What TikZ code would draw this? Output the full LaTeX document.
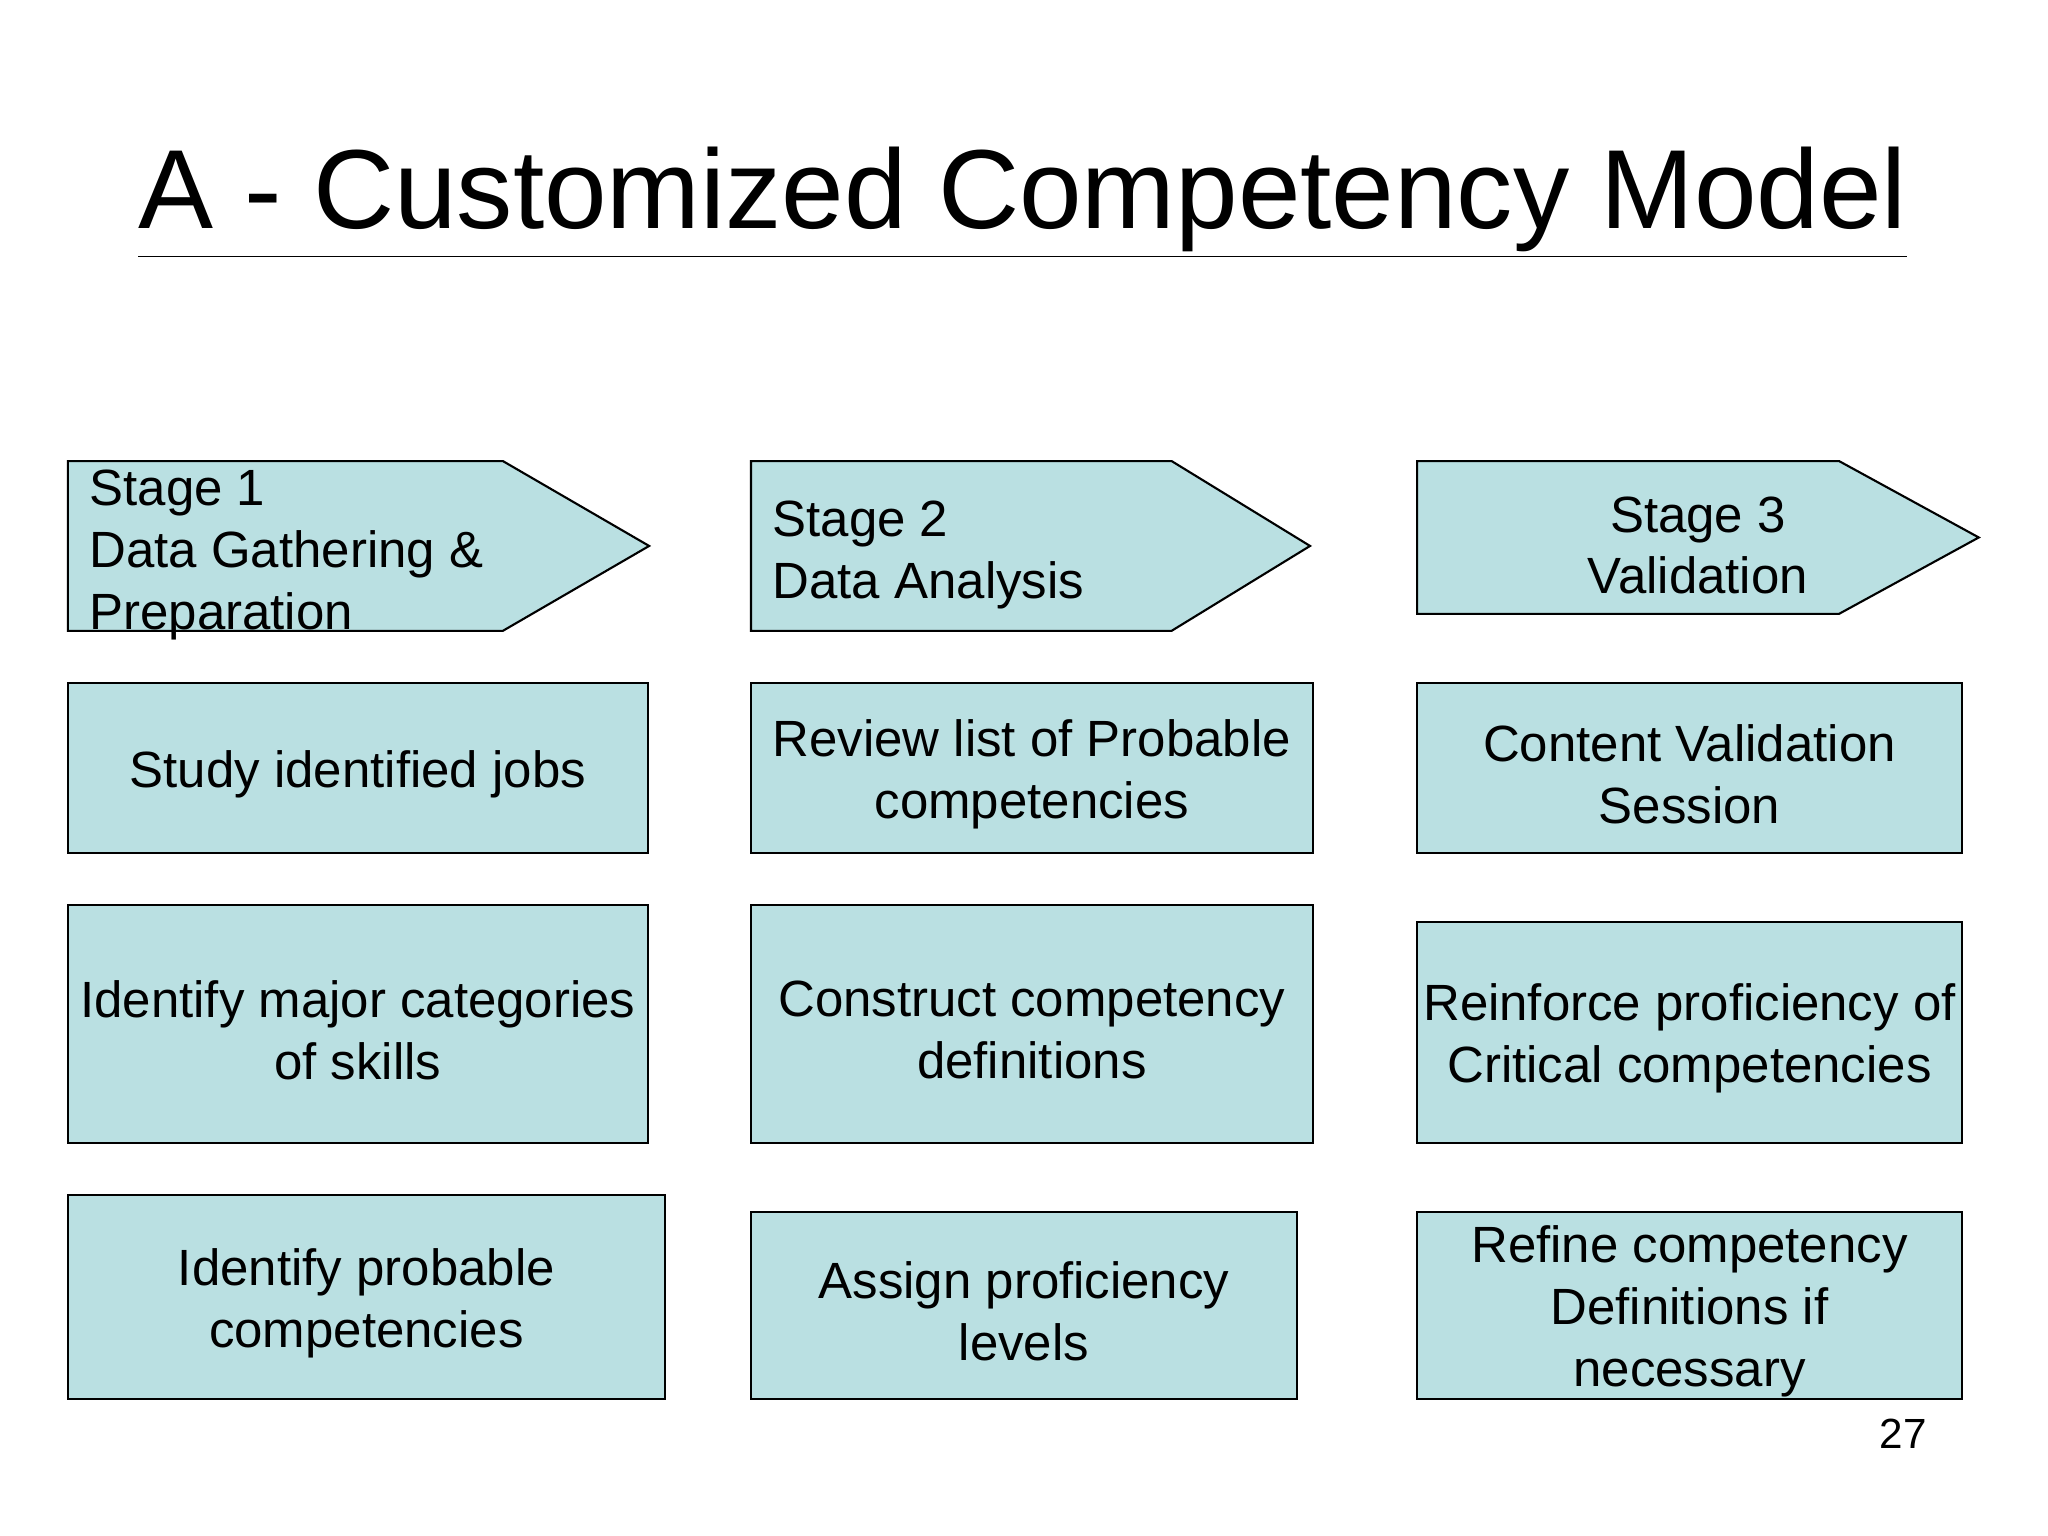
\documentclass[tikz,border=0pt]{standalone}
\usepackage{fontspec}
\setmainfont{Liberation Sans}
\usetikzlibrary{positioning}
\definecolor{boxfill}{HTML}{BAE0E2}
\tikzset{
  box/.style={draw=black, fill=boxfill, line width=0.6pt},
  txt/.style={align=center, font=\fontsize{14.5}{17.6}\selectfont, inner sep=0pt, yshift=-0.06cm},
  stagetxt/.style={align=left, font=\fontsize{14.5}{17.6}\selectfont, inner sep=0pt, anchor=west}
}
\newcommand{\stagearrow}[5]{% x0, x1 (notch), x2 (tip), y0, y1
  \draw[box] (#1,#4) -- (#2,#4) -- (#3,{(#4+#5)/2}) -- (#2,#5) -- (#1,#5) -- cycle;}
\begin{document}
\begin{tikzpicture}[x=0.01306cm, y=-0.01306cm]
\useasboundingbox (0,0) rectangle (1568,1176);
% title
\node[inner sep=0pt] (title) at (783,155) {\fontsize{32}{38}\selectfont\underline{A - Customized Competency Model}};
% stage arrows
\stagearrow{52}{385}{497}{353}{483}
\node[stagetxt] (s1) at (68,425) {Stage 1\\Data Gathering \&\\Preparation};
\stagearrow{575}{897}{1003}{353}{483}
\node[stagetxt] (s2) at (591,425) {Stage 2\\Data Analysis};
\stagearrow{1085}{1408}{1515}{353}{470}
\node[txt] (s3) at (1300,413) {Stage 3\\Validation};
% stage 1 column
\draw[box] (52,523) rectangle (496,653) node[midway,txt] (a1) {Study identified jobs};
\draw[box] (52,693) rectangle (496,875) node[midway,txt] (a2) {Identify major categories\\of skills};
\draw[box] (52,915) rectangle (509,1071) node[midway,txt] (a3) {Identify probable\\competencies};
% stage 2 column
\draw[box] (575,523) rectangle (1005,653) node[midway,txt] (b1) {Review list of Probable\\competencies};
\draw[box] (575,693) rectangle (1005,875) node[midway,txt] (b2) {Construct competency\\definitions};
\draw[box] (575,928) rectangle (993,1071) node[midway,txt] (b3) {Assign proficiency\\levels};
% stage 3 column
\draw[box] (1085,523) rectangle (1502,653) node[midway,txt] (c1) {Content Validation\\Session};
\draw[box] (1085,706) rectangle (1502,875) node[midway,txt] (c2) {Reinforce proficiency of\\Critical competencies};
\draw[box] (1085,928) rectangle (1502,1071) node[midway,txt] (c3) {Refine competency\\Definitions if\\necessary};
% page number
\node[font=\fontsize{12}{14}\selectfont] (pg) at (1457,1098) {27};
\end{tikzpicture}
\end{document}
